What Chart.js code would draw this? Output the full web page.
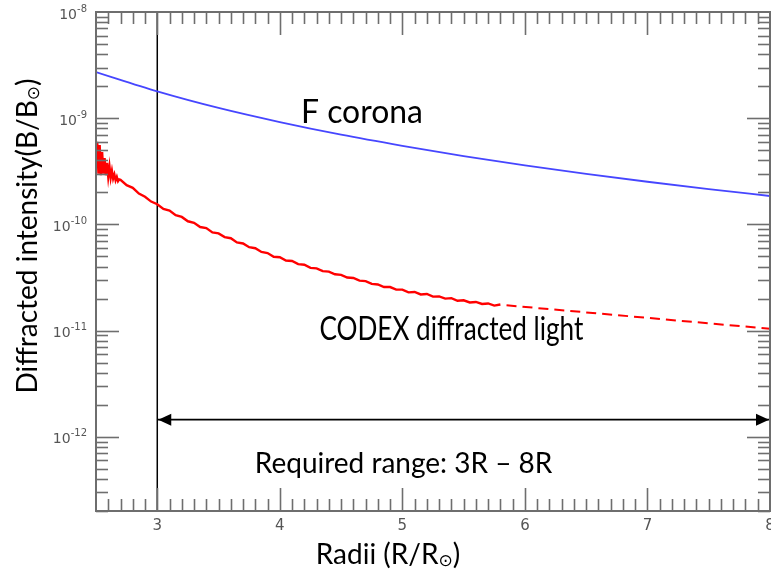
<!DOCTYPE html>
<html>
<head>
<meta charset="utf-8">
<script src="https://cdn.jsdelivr.net/npm/chart.js@4.4.1/dist/chart.umd.min.js"></script>
<style>
  html, body { margin: 0; padding: 0; background: #fff; }
  #chartCanvas { display: block; }
</style>
</head>
<body>
<canvas id="chartCanvas" width="771" height="575"></canvas>
<script>
// tick labels
const xTickValues = [3, 4, 5, 6, 7, 8];
const yTickValues = [1e-12, 1e-11, 1e-10, 1e-9, 1e-8];

// F corona (blue)
const coronaRadii = [2.5, 3, 3.5, 4, 4.5, 5, 5.5, 6, 6.5, 7, 7.5, 8];
const coronaIntensity = [2.72e-9, 1.79e-9, 1.25e-9, 9.2e-10, 7.0e-10, 5.5e-10, 4.4e-10, 3.6e-10, 2.99e-10, 2.52e-10, 2.15e-10, 1.85e-10];

// CODEX diffracted light, measured (red solid)
const codexRadii = [
  2.50, 2.51, 2.52, 2.53, 2.54, 2.55, 2.56, 2.57, 2.58, 2.59,
  2.60, 2.61, 2.62, 2.63, 2.64, 2.65, 2.66, 2.67, 2.68, 2.69,
  2.70, 2.75, 2.80, 2.85, 2.90, 2.95, 3.00, 3.05, 3.10, 3.15,
  3.20, 3.25, 3.30, 3.35, 3.40, 3.45, 3.50, 3.55, 3.60, 3.65,
  3.70, 3.75, 3.80, 3.85, 3.90, 3.95, 4.00, 4.05, 4.10, 4.15,
  4.20, 4.25, 4.30, 4.35, 4.40, 4.45, 4.50, 4.55, 4.60, 4.65,
  4.70, 4.75, 4.80, 4.85, 4.90, 4.95, 5.00, 5.05, 5.10, 5.15,
  5.20, 5.25, 5.30, 5.35, 5.40, 5.45, 5.50, 5.55, 5.60, 5.65,
  5.70, 5.75, 5.80
];
const codexIntensity = [
  4.5e-10, 6.0e-10, 3.0e-10, 5.6e-10, 2.9e-10, 4.8e-10, 3.0e-10, 4.2e-10, 2.9e-10, 3.8e-10,
  2.8e-10, 3.5e-10, 2.75e-10, 3.2e-10, 2.7e-10, 2.95e-10, 2.6e-10, 2.8e-10, 2.55e-10, 2.65e-10,
  2.63e-10, 2.34e-10, 2.21e-10, 1.95e-10, 1.82e-10, 1.64e-10, 1.55e-10, 1.40e-10, 1.35e-10, 1.22e-10,
  1.175e-10, 1.07e-10, 1.035e-10, 9.44e-11, 9.23e-11, 8.41e-11, 8.22e-11, 7.59e-11, 7.41e-11, 6.76e-11,
  6.61e-11, 6.10e-11, 5.96e-11, 5.50e-11, 5.37e-11, 4.95e-11, 4.90e-11, 4.57e-11, 4.52e-11, 4.22e-11,
  4.17e-11, 3.89e-11, 3.85e-11, 3.63e-11, 3.59e-11, 3.39e-11, 3.35e-11, 3.16e-11, 3.13e-11, 2.95e-11,
  2.92e-11, 2.75e-11, 2.72e-11, 2.57e-11, 2.57e-11, 2.43e-11, 2.43e-11, 2.29e-11, 2.31e-11, 2.19e-11,
  2.21e-11, 2.09e-11, 2.10e-11, 2.00e-11, 2.02e-11, 1.91e-11, 1.93e-11, 1.84e-11, 1.86e-11, 1.78e-11,
  1.80e-11, 1.72e-11, 1.76e-11
];

// CODEX extrapolation (red dashed)
const extrapRadii = [5.85, 8];
const extrapIntensity = [1.73e-11, 1.04e-11];

// required range marker
const rangeRadii = [3, 8];
const arrowLevel = 1.45e-12;
const yMin = 2e-13;
const yMax = 1e-8;

const toPoints = (xs, ys) => xs.map((v, i) => ({ x: v, y: ys[i] }));

function line(ctx, x1, y1, x2, y2) {
  ctx.beginPath();
  ctx.moveTo(x1, y1);
  ctx.lineTo(x2, y2);
  ctx.stroke();
}

// text with a subscript sun symbol, drawn left to right from x
function drawSunText(ctx, parts, x, y, size) {
  let cx = x;
  parts.forEach(p => {
    if (p.sub) {
      ctx.font = Math.round(size * 0.62) + 'px "DejaVu Sans"';
      ctx.fillText(p.t, cx, y + size * 0.22);
    } else {
      ctx.font = size + 'px Lato';
      ctx.fillText(p.t, cx, y);
    }
    cx += ctx.measureText(p.t).width;
  });
  return cx - x;
}
function sunTextWidth(ctx, parts, size) {
  let w = 0;
  parts.forEach(p => {
    ctx.font = p.sub ? Math.round(size * 0.62) + 'px "DejaVu Sans"' : size + 'px Lato';
    w += ctx.measureText(p.t).width;
  });
  return w;
}

const decor = {
  id: 'decor',
  afterDatasetsDraw(chart) {
    const { ctx, chartArea: a, scales: { x, y } } = chart;
    ctx.save();

    // frame
    ctx.strokeStyle = '#6e6e6e';
    ctx.lineWidth = 2;
    ctx.strokeRect(a.left, a.top, a.right - a.left, a.bottom - a.top);

    // inward ticks, x
    ctx.lineWidth = 1.6;
    for (let i = 26; i < 80; i++) {
      const px = Math.round(x.getPixelForValue(i / 10)) + 0.5;
      const len = i % 10 === 0 ? 23 : 12;
      line(ctx, px, a.bottom, px, a.bottom - len);
      line(ctx, px, a.top, px, a.top + len);
    }
    // inward ticks, y
    for (let e = -13; e <= -9; e++) {
      for (let m = 1; m <= 9; m++) {
        const v = m * Math.pow(10, e);
        if (v < yMin * 0.999 || v > yMax * 1.001) continue;
        const py = Math.round(y.getPixelForValue(v)) + 0.5;
        const len = m === 1 ? 23 : 12;
        line(ctx, a.left, py, a.left + len, py);
        line(ctx, a.right, py, a.right - len, py);
      }
    }

    // y tick labels: 10 with a raised exponent
    ctx.fillStyle = '#555';
    ctx.textBaseline = 'middle';
    ctx.textAlign = 'left';
    yTickValues.forEach(v => {
      const py = y.getPixelForValue(v);
      const exp = String(Math.round(Math.log10(v)));
      ctx.font = '10px "DejaVu Sans"';
      const ew = ctx.measureText(exp).width;
      ctx.font = '14px "DejaVu Sans"';
      const bw = ctx.measureText('10').width;
      const left = a.left - 9 - ew - bw;
      ctx.fillText('10', left, py + 3);
      ctx.font = '10px "DejaVu Sans"';
      ctx.fillText(exp, left + bw, py - 3);
    });

    // arrow heads of the required range
    const ay = y.getPixelForValue(arrowLevel);
    const x0 = x.getPixelForValue(rangeRadii[0]);
    const x1 = x.getPixelForValue(rangeRadii[1]);
    ctx.fillStyle = '#000';
    ctx.beginPath();
    ctx.moveTo(x0 + 1, ay);
    ctx.lineTo(x0 + 14, ay - 6);
    ctx.lineTo(x0 + 14, ay + 6);
    ctx.closePath();
    ctx.fill();
    ctx.beginPath();
    ctx.moveTo(x1 - 1, ay);
    ctx.lineTo(x1 - 14, ay - 6);
    ctx.lineTo(x1 - 14, ay + 6);
    ctx.closePath();
    ctx.fill();

    // annotations
    ctx.fillStyle = '#000';
    ctx.textAlign = 'center';
    ctx.textBaseline = 'middle';
    ctx.font = '32px Lato';
    ctx.fillText('F corona', x.getPixelForValue(4.67), y.getPixelForValue(1.12e-9), 122);
    ctx.fillText('CODEX diffracted light', x.getPixelForValue(5.4), y.getPixelForValue(1.01e-11), 264);
    ctx.font = '28px Lato';
    ctx.fillText('Required range: 3R \u2013 8R', x.getPixelForValue(5.01), y.getPixelForValue(5.6e-13), 307);

    // axis titles
    ctx.textAlign = 'left';
    ctx.textBaseline = 'middle';
    const xt = [{ t: 'Radii (R/R' }, { t: '\u2299', sub: true }, { t: ')' }];
    const xw = sunTextWidth(ctx, xt, 28);
    drawSunText(ctx, xt, 388 - xw / 2, 555, 28);

    const yt = [{ t: 'Diffracted intensity(B/B' }, { t: '\u2299', sub: true }, { t: ')' }];
    const yw = sunTextWidth(ctx, yt, 28);
    ctx.translate(28, 236);
    ctx.rotate(-Math.PI / 2);
    drawSunText(ctx, yt, -yw / 2, 0, 28);

    ctx.restore();
  }
};

const ctx = document.getElementById('chartCanvas').getContext('2d');
const chart = new Chart(ctx, {
  type: 'scatter',
  data: {
    datasets: [
      {
        label: 'F corona',
        data: toPoints(coronaRadii, coronaIntensity),
        showLine: true,
        borderColor: '#4646ff',
        borderWidth: 1.8,
        pointRadius: 0,
        cubicInterpolationMode: 'monotone'
      },
      {
        label: 'CODEX diffracted light',
        data: toPoints(codexRadii, codexIntensity),
        showLine: true,
        borderColor: '#ff0000',
        borderWidth: 2.4,
        pointRadius: 0
      },
      {
        label: 'CODEX extrapolated',
        data: toPoints(extrapRadii, extrapIntensity),
        showLine: true,
        borderColor: '#ff0000',
        borderWidth: 2,
        borderDash: [10, 6],
        pointRadius: 0
      },
      {
        label: 'Range start',
        data: [{ x: rangeRadii[0], y: yMin }, { x: rangeRadii[0], y: yMax }],
        showLine: true,
        borderColor: '#000',
        borderWidth: 1.5,
        pointRadius: 0
      },
      {
        label: 'Required range',
        data: [{ x: rangeRadii[0], y: arrowLevel }, { x: rangeRadii[1], y: arrowLevel }],
        showLine: true,
        borderColor: '#000',
        borderWidth: 1.8,
        pointRadius: 0
      }
    ]
  },
  options: {
    responsive: false,
    animation: false,
    devicePixelRatio: 1,
    layout: { padding: { top: 12, right: 1, left: 0, bottom: 0 } },
    plugins: {
      legend: { display: false },
      tooltip: { enabled: false }
    },
    scales: {
      x: {
        type: 'linear',
        min: 2.5,
        max: 8,
        grid: { display: false, drawTicks: false },
        border: { display: false },
        afterBuildTicks(scale) {
          scale.ticks = xTickValues.map(v => ({ value: v }));
        },
        afterFit(scale) {
          scale.height = 64;
          scale.paddingLeft = 0;
          scale.paddingRight = 0;
        },
        ticks: {
          padding: 6,
          color: '#555',
          font: { family: 'DejaVu Sans', size: 15 },
          maxRotation: 0,
          callback: v => String(v)
        }
      },
      y: {
        type: 'logarithmic',
        min: yMin,
        max: yMax,
        grid: { display: false, drawTicks: false },
        border: { display: false },
        afterBuildTicks(scale) {
          scale.ticks = yTickValues.map(v => ({ value: v }));
        },
        afterFit(scale) {
          scale.width = 96;
          scale.paddingTop = 0;
          scale.paddingBottom = 0;
        },
        ticks: { display: false }
      }
    }
  },
  plugins: [decor]
});
</script>
</body>
</html>
